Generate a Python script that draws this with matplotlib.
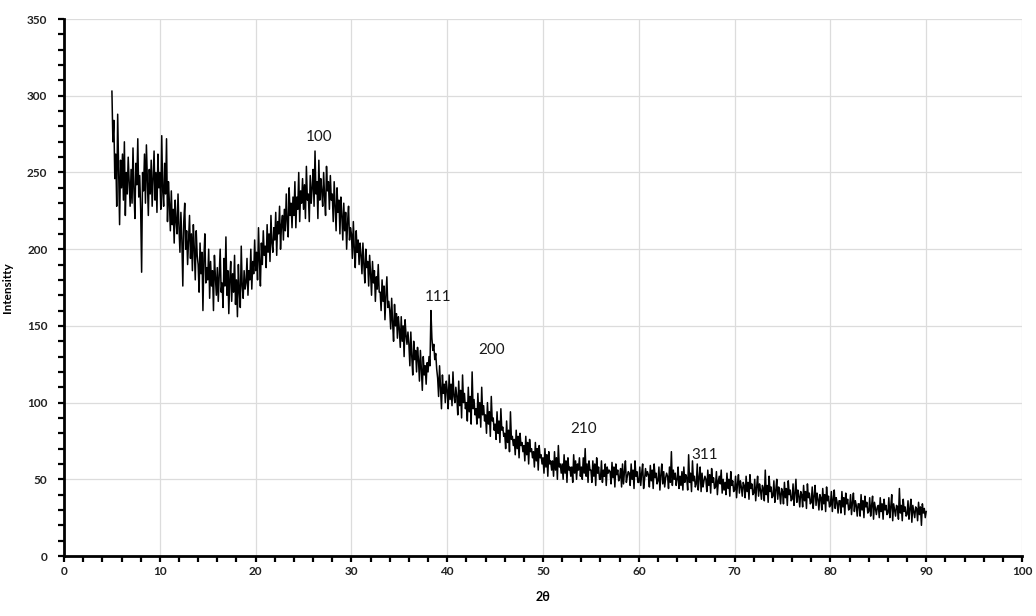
import numpy as np
import matplotlib
matplotlib.use('Agg')
import matplotlib.pyplot as plt

two_theta = np.arange(50, 901) / 10.0

intensity_5_25 = [
    303, 270, 284, 246, 262, 228, 288, 250, 216, 258,
    240, 262, 232, 270, 222, 250, 236, 260, 244, 228,
    252, 230, 266, 238, 220, 256, 242, 272, 234, 248,
    226, 185, 250, 238, 262, 230, 268, 244, 222, 252,
    236, 258, 228, 246, 264, 232, 250, 224, 262, 240,
    250, 226, 274, 238, 228, 256, 236, 272, 218, 244,
    230, 212, 238, 216, 226, 204, 232, 218, 210, 236,
    214, 198, 224, 206, 176, 218, 230, 200, 212, 190,
    206, 222, 194, 210, 186, 216, 200, 180, 212, 196,
    190, 172, 204, 184, 198, 160, 194, 210, 178, 188,
    180, 200, 168, 192, 176, 186, 160, 196, 182, 170,
    188, 166, 184, 200, 172, 178, 162, 194, 176, 208,
    170, 186, 158, 180, 192, 166, 184, 172, 196, 164,
    180, 156, 190, 172, 162, 202, 176, 168, 186, 174,
    178, 194, 170, 186, 180, 200, 174, 192, 184, 206,
    186, 198, 180, 214, 192, 176, 204, 190, 212, 196,
    202, 188, 216, 198, 210, 192, 222, 204, 198, 214,
    206, 224, 196, 218, 210, 228, 200, 216, 222, 206,
    226, 212, 236, 218, 208, 240, 222, 230, 214, 234,
    222, 244, 214, 234, 226, 250, 218, 238, 230, 246,
]
intensity_25_45 = [
    226, 242, 220, 254, 232, 236, 218, 248, 230, 240,
    252, 228, 264, 236, 244, 220, 258, 232, 246, 238,
    228, 250, 234, 222, 254, 238, 244, 226, 248, 232,
    236, 218, 244, 228, 212, 240, 224, 232, 210, 234,
    222, 206, 230, 212, 224, 200, 218, 228, 206, 214,
    210, 194, 218, 200, 188, 212, 198, 206, 190, 204,
    196, 184, 204, 190, 178, 200, 188, 192, 176, 196,
    184, 170, 192, 178, 186, 166, 182, 174, 190, 172,
    172, 160, 180, 166, 176, 154, 170, 182, 162, 166,
    160, 148, 168, 152, 140, 164, 150, 158, 142, 156,
    148, 136, 156, 140, 150, 130, 154, 144, 138, 146,
    138, 124, 146, 130, 118, 140, 128, 134, 120, 136,
    128, 114, 134, 122, 108, 130, 118, 124, 112, 126,
    120, 130, 124, 160, 142, 134, 138, 128, 132, 122,
    116, 104, 124, 110, 96, 118, 106, 112, 100, 114,
    108, 96, 118, 102, 112, 98, 120, 104, 100, 110,
    104, 92, 114, 98, 108, 90, 118, 100, 106, 96,
    100, 88, 110, 94, 104, 86, 120, 96, 102, 92,
    96, 86, 106, 90, 100, 84, 110, 92, 98, 88,
    92, 80, 100, 86, 94, 78, 104, 88, 90, 82,
]
intensity_45_65 = [
    86, 76, 94, 80, 88, 74, 96, 82, 84, 78,
    80, 70, 88, 74, 82, 68, 94, 76, 78, 72,
    76, 66, 82, 70, 78, 64, 80, 72, 74, 68,
    72, 62, 78, 66, 74, 60, 76, 68, 70, 64,
    68, 58, 74, 62, 70, 56, 72, 64, 66, 60,
    64, 54, 70, 58, 66, 52, 68, 60, 62, 56,
    62, 52, 68, 56, 64, 50, 72, 58, 60, 54,
    60, 50, 66, 54, 62, 48, 64, 56, 58, 52,
    58, 48, 66, 54, 62, 50, 60, 56, 64, 52,
    58, 50, 64, 54, 70, 52, 60, 48, 62, 56,
    56, 48, 62, 52, 60, 46, 64, 54, 58, 50,
    50, 62, 48, 56, 52, 60, 46, 58, 54, 56,
    55, 47, 61, 51, 58, 45, 60, 53, 56, 49,
    51, 57, 45, 60, 47, 55, 62, 48, 52, 55,
    54, 46, 60, 50, 56, 44, 62, 52, 55, 48,
    48, 58, 46, 54, 60, 44, 50, 57, 52, 55,
    53, 45, 59, 49, 56, 44, 60, 51, 54, 47,
    49, 58, 43, 53, 60, 47, 55, 45, 51, 54,
    52, 44, 58, 48, 68, 46, 56, 50, 54, 46,
    50, 58, 44, 52, 46, 55, 43, 58, 48, 53,
]
intensity_65_90 = [
    51, 43, 66, 48, 54, 42, 62, 49, 52, 45,
    47, 60, 43, 51, 58, 42, 54, 45, 49, 52,
    50, 42, 56, 46, 53, 41, 57, 48, 51, 44,
    45, 55, 40, 49, 52, 47, 56, 41, 50, 43,
    48, 40, 54, 44, 50, 39, 55, 46, 49, 42,
    43, 52, 38, 47, 53, 41, 49, 45, 39, 48,
    46, 38, 52, 42, 48, 37, 53, 44, 47, 40,
    41, 50, 36, 45, 52, 39, 47, 43, 37, 46,
    44, 36, 56, 40, 46, 35, 52, 42, 45, 38,
    39, 49, 35, 43, 50, 37, 45, 41, 34, 44,
    42, 34, 48, 38, 44, 33, 49, 40, 43, 36,
    37, 47, 33, 41, 50, 35, 43, 39, 32, 42,
    40, 32, 46, 36, 42, 31, 47, 38, 41, 34,
    35, 45, 31, 39, 46, 33, 41, 37, 30, 40,
    38, 30, 44, 34, 40, 29, 45, 36, 39, 32,
    33, 42, 29, 37, 43, 31, 38, 35, 28, 36,
    36, 28, 42, 32, 38, 27, 41, 34, 37, 30,
    31, 40, 27, 35, 41, 29, 36, 33, 26, 34,
    34, 26, 40, 30, 36, 25, 39, 32, 35, 28,
    29, 38, 26, 33, 39, 24, 35, 31, 27, 32,
    33, 25, 38, 29, 34, 24, 37, 30, 33, 27,
    28, 38, 25, 32, 40, 23, 34, 30, 26, 33,
    32, 24, 44, 28, 33, 23, 37, 29, 32, 26,
    27, 36, 24, 31, 37, 22, 33, 29, 25, 32,
    31, 23, 35, 27, 32, 20, 34, 28, 31, 25,
    29,
]
intensity = intensity_5_25 + intensity_25_45 + intensity_45_65 + intensity_65_90

peak_labels = ['100', '111', '200', '210', '311']
peak_x = [26.6, 39.0, 44.6, 54.2, 66.9]
peak_y = [273, 169, 134, 83, 66]

plt.rcParams['font.family'] = ['Lato', 'DejaVu Sans']

fig = plt.figure(figsize=(10.36, 6.16), dpi=100)
ax = fig.add_axes([0.0618, 0.0974, 0.9247, 0.8716])

ax.plot(two_theta, intensity, color='black', linewidth=1.1)

for lab, x, y in zip(peak_labels, peak_x, peak_y):
    ax.text(x, y, lab, ha='center', va='center', fontsize=11, color='#1a1a1a')

ax.set_xlim(0, 100)
ax.set_ylim(0, 350)
ax.set_xticks(range(0, 101, 10))
ax.set_xticks(range(0, 101, 2), minor=True)
ax.set_yticks(range(0, 351, 50))
ax.set_yticks(range(0, 351, 10), minor=True)
ax.grid(True, which='major', color='#dcdcdc', linewidth=0.9)
ax.set_axisbelow(True)

for s in ['top', 'right']:
    ax.spines[s].set_visible(False)
for s in ['left', 'bottom']:
    ax.spines[s].set_linewidth(2)
    ax.spines[s].set_color('black')

ax.tick_params(which='both', direction='out', width=1.6, length=4, color='black')
ax.tick_params(labelsize=8.5, labelcolor='#222222')
for t in ax.get_xticklabels() + ax.get_yticklabels():
    t.set_fontweight('bold')
ax.tick_params(axis='y', pad=8)

ax.set_xlabel('2θ', fontsize=9, fontweight='bold', labelpad=10)
ax.set_ylabel('Intensitty', fontsize=8.5, fontweight='bold', labelpad=10)

fig.savefig('out.png', dpi=100)
